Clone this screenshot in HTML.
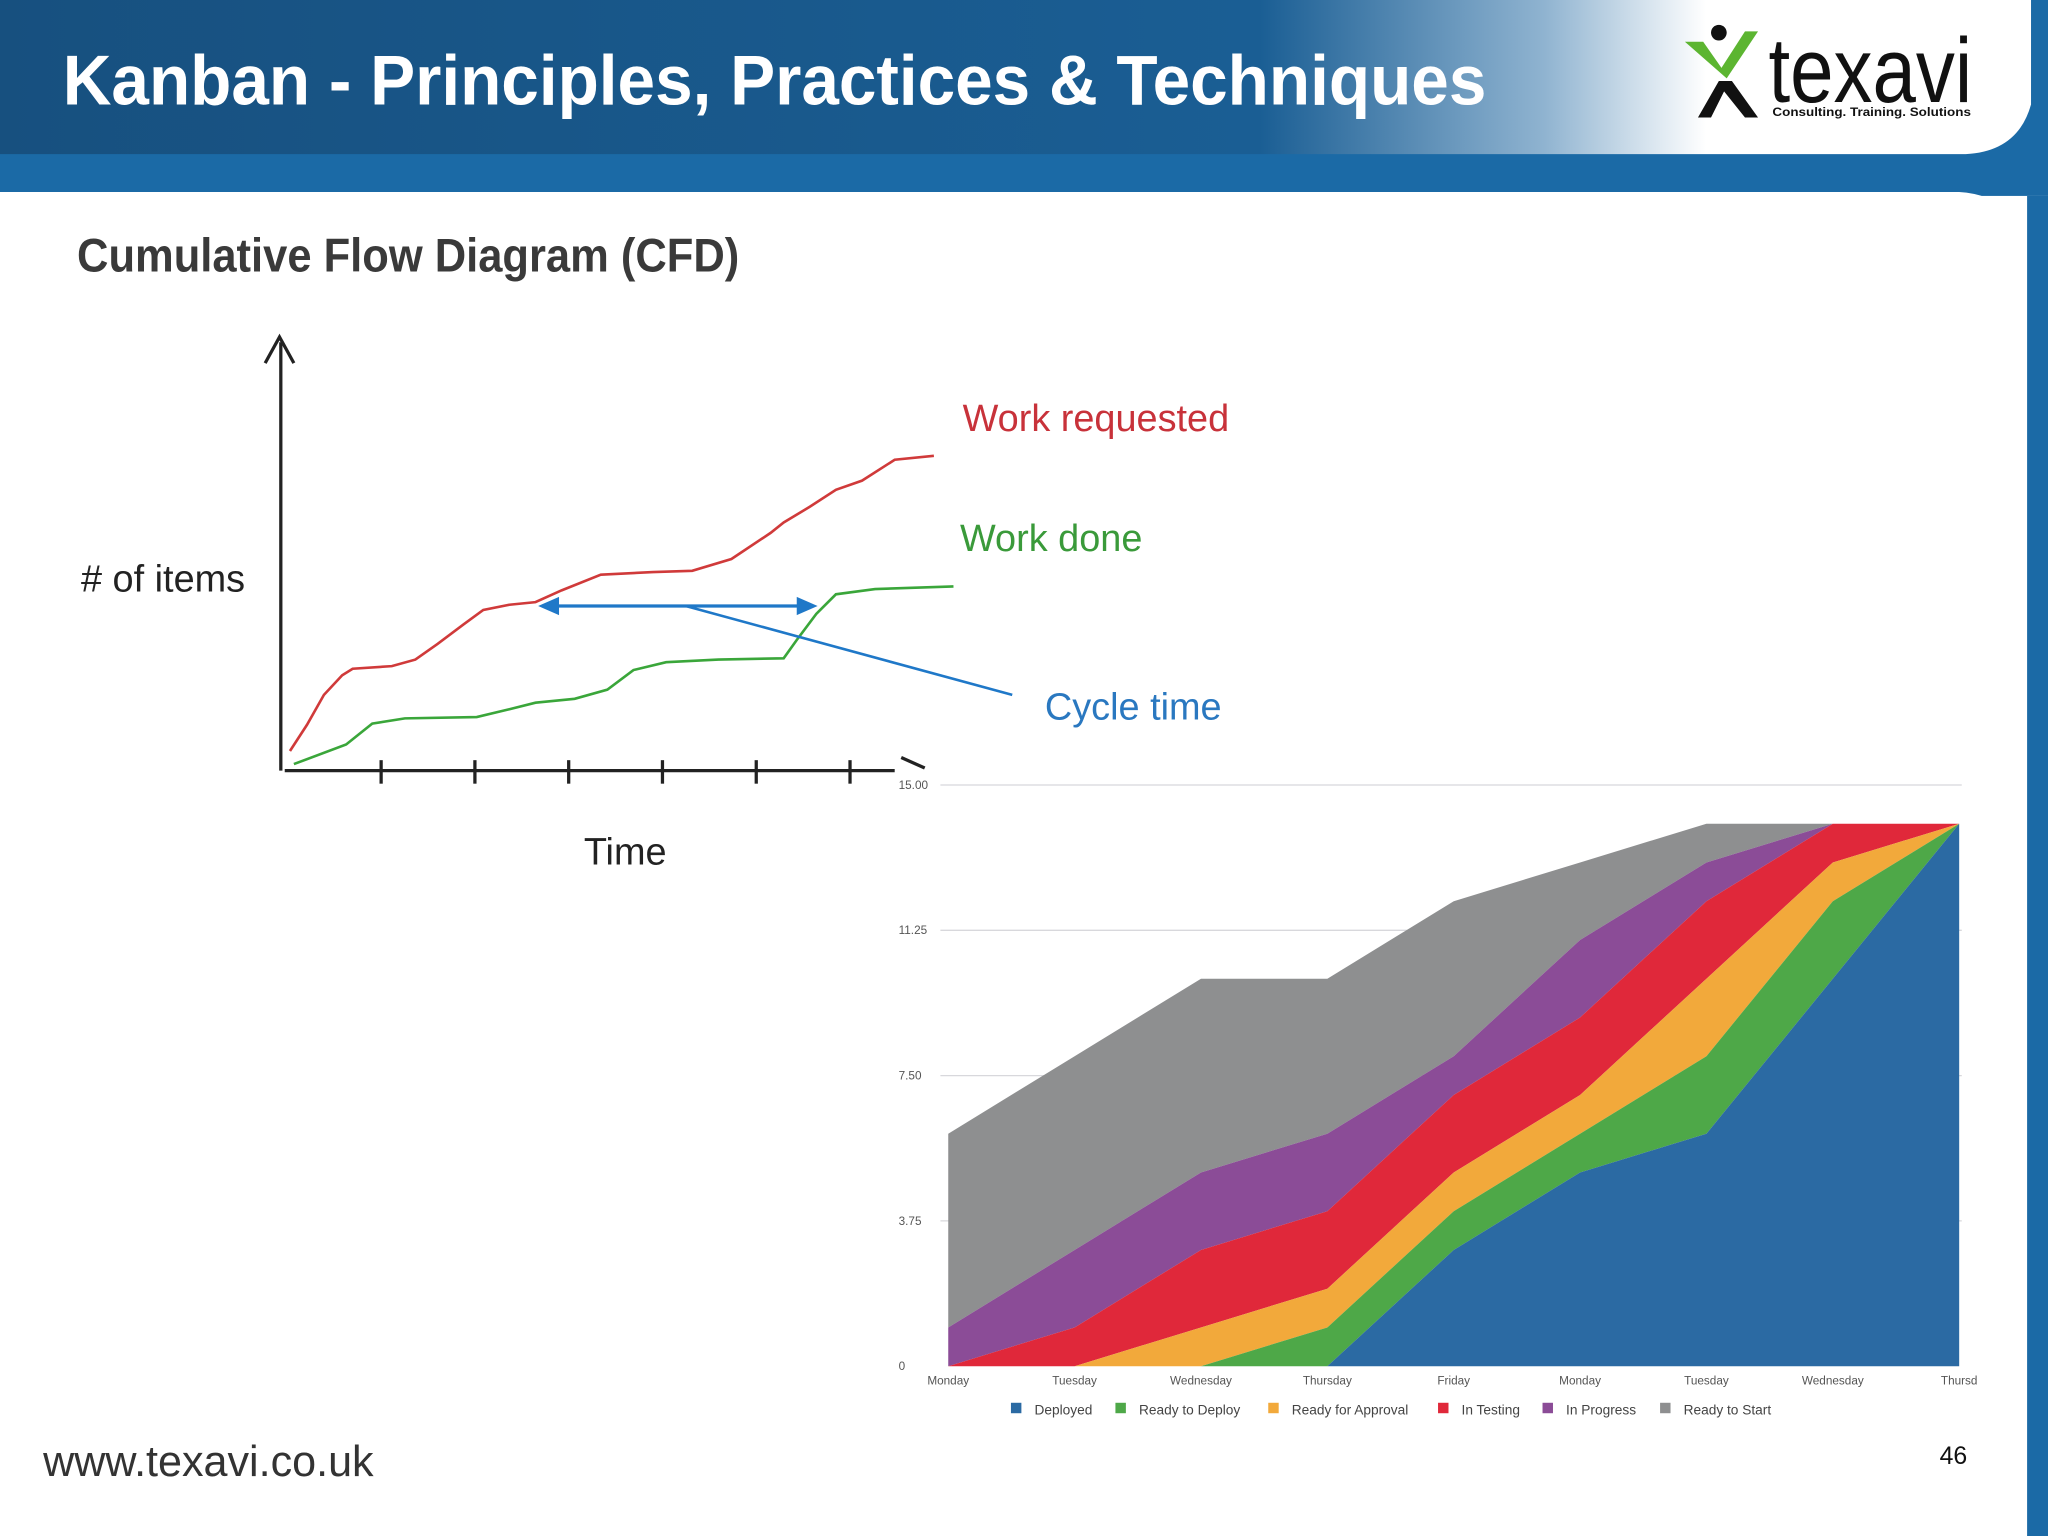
<!DOCTYPE html>
<html><head><meta charset="utf-8"><style>
html,body{margin:0;padding:0;background:#fff;}
svg{display:block;}
text{font-family:"Liberation Sans",sans-serif;}
</style></head><body>
<svg id="page" width="2048" height="1536" viewBox="0 0 1568 1176" xmlns="http://www.w3.org/2000/svg">
<defs>
<linearGradient id="hdr" x1="0" x2="1" y1="0" y2="0">
<stop offset="0" stop-color="#17507f"/><stop offset="0.62" stop-color="#1a5e94"/><stop offset="0.76" stop-color="#8fb3d0"/><stop offset="0.84" stop-color="#ffffff"/><stop offset="1" stop-color="#ffffff"/>
</linearGradient>
</defs>
<rect x="0" y="0" width="1568" height="150" fill="#1b6aa6"/>
<path d="M0 0 H1555 V80 Q1545 116 1505 118 H0 Z" fill="url(#hdr)"/>
<path d="M0 147 H1500 Q1548 150 1550 200 V1176 H0 Z" fill="#ffffff"/>
<text x="48" y="80" font-size="54" font-weight="bold" fill="#ffffff" textLength="1090" lengthAdjust="spacingAndGlyphs">Kanban - Principles, Practices &amp; Techniques</text>
<g>
<circle cx="1316" cy="25" r="6" fill="#111"/>
<path d="M1290 32 L1304 32 L1318 52 L1336 24 L1346 24 L1322 60 Z" fill="#5cb531"/>
<path d="M1300 90 L1316 62 L1326 62 L1346 90 L1336 90 L1320 70 L1310 90 Z" fill="#111"/>
<text x="1354" y="78" font-size="70" fill="#111" textLength="156" lengthAdjust="spacingAndGlyphs">texavi</text>
<text x="1357" y="89" font-size="9" font-weight="bold" fill="#111" textLength="152" lengthAdjust="spacingAndGlyphs">Consulting. Training. Solutions</text>
</g>
<text x="59" y="208" font-size="36" font-family="Liberation Serif, serif" font-weight="bold" fill="#3a3a3a" textLength="507" lengthAdjust="spacingAndGlyphs">Cumulative Flow Diagram (CFD)</text>

<g id="concept">
<line x1="215" y1="262" x2="215" y2="590" stroke="#222" stroke-width="2.5"/>
<path d="M203 278 L214 258 L225 278" fill="none" stroke="#222" stroke-width="2.5"/>
<line x1="218" y1="590" x2="685" y2="590" stroke="#222" stroke-width="2.5"/>
<line x1="690" y1="580" x2="708" y2="588" stroke="#222" stroke-width="2.5"/>
<g id="ticks"></g>
<polyline fill="none" stroke="#d03a3a" stroke-width="2" points="222,575 235,555 248,532 262,517 270,512 300,510 318,505 335,493 355,478 370,467 390,463 410,461 430,452 460,440 500,438 530,437 560,428 590,408 600,400 620,388 640,375 660,368 685,352 715,349"/>
<polyline fill="none" stroke="#3aa63a" stroke-width="2" points="225,585 265,570 285,554 310,550 365,549 390,543 410,538 440,535 465,528 485,513 510,507 550,505 600,504 610,490 625,470 640,455 670,451 730,449"/>
<line x1="425" y1="464" x2="612" y2="464" stroke="#1f78c8" stroke-width="2.5"/>
<path d="M412 464 L428 457 L428 471 Z" fill="#1f78c8"/>
<path d="M626 464 L610 457 L610 471 Z" fill="#1f78c8"/>
<line x1="525" y1="464" x2="775" y2="532" stroke="#1f78c8" stroke-width="2"/>
<text x="62" y="453" font-size="29" fill="#222"># of items</text>
<text x="447" y="662" font-size="29" fill="#222">Time</text>
<text x="737" y="330" font-size="29" fill="#c8323a">Work requested</text>
<text x="735" y="422" font-size="29" fill="#3a9a3a">Work done</text>
<text x="800" y="551" font-size="29" fill="#2a78c0">Cycle time</text>
</g>

<g id="cfd"></g>

<text x="33" y="1130" font-size="33" fill="#333">www.texavi.co.uk</text>
<text x="1485" y="1121" font-size="19" fill="#111">46</text>
<rect x="1552" y="150" width="16" height="1026" fill="#1b6aa6"/>
</svg>
<script>
const categories = ["Monday","Tuesday","Wednesday","Thursday","Friday","Monday","Tuesday","Wednesday","Thursd"];
const seriesNames = ["Deployed","Ready to Deploy","Ready for Approval","In Testing","In Progress","Ready to Start"];
const seriesColors = ["#2b6aa3","#4ea848","#f2a93b","#e0283a","#8b4c97","#8e8f90"];
const deployed = [0,0,0,0,3,5,6,10,14];
const readyToDeploy = [0,0,0,1,1,1,2,2,0];
const readyForApproval = [0,0,1,1,1,1,2,1,0];
const inTesting = [0,1,2,2,2,2,2,1,0];
const inProgress = [1,2,2,2,1,2,1,0,0];
const readyToStart = [5,5,5,4,4,2,1,0,0];
const yTicks = [0,3.75,7.5,11.25,15];
const yTickLabels = ["0","3.75","7.50","11.25","15.00"];
const conceptTicks = [1,2,3,4,5,6];

const NS = "http://www.w3.org/2000/svg";
const X0 = 726, X1 = 1500, Y0 = 1046, Y1 = 601, YMAX = 15;
function xScale(i){ return X0 + i*(X1-X0)/(categories.length-1); }
function yScale(v){ return Y0 - v/YMAX*(Y0-Y1); }
function mk(tag, attrs, parent){ const e=document.createElementNS(NS,tag); for(const k in attrs) e.setAttribute(k,attrs[k]); parent.appendChild(e); return e; }

const tg = document.getElementById('ticks');
conceptTicks.forEach(t=>{
  const x = 220 + t*71.8;
  const l = mk('line',{x1:x,y1:582,x2:x,y2:600,stroke:'#222','stroke-width':2.5},tg);
  
  
});

const g = document.getElementById('cfd');
yTicks.forEach((v,i)=>{
  if(v>0){
    const l = mk('line',{x1:720,x2:1502,y1:yScale(v),y2:yScale(v),stroke:'#d8d8dc','stroke-width':1},g);
    
    
  }
  const t = mk('text',{x:688,y:yScale(v)+3,'font-size':9,fill:'#555'},g);
  t.textContent = yTickLabels[i];
  
  
});
const series = [deployed,readyToDeploy,readyForApproval,inTesting,inProgress,readyToStart];
let base = categories.map(()=>0);
const layers = [];
series.forEach((s,si)=>{
  const top = base.map((b,i)=>b+s[i]);
  layers.push({bottom:base.slice(), top});
  base = top;
});
for(let si=series.length-1; si>=0; si--){
  const L = layers[si];
  let d = "M"+categories.map((c,i)=>xScale(i)+","+yScale(L.top[i])).join(" L");
  for(let i=categories.length-1;i>=0;i--) d += " L"+xScale(i)+","+yScale(L.bottom[i]);
  d += " Z";
  const p = mk('path',{d, fill:seriesColors[si]},g);
  
  
}
categories.forEach((c,i)=>{
  const t = mk('text',{x:xScale(i),y:1060,'font-size':9,fill:'#555','text-anchor':'middle'},g);
  t.textContent = c;
  
  
});
const legendX = [774,854,971,1101,1181,1271];
seriesNames.forEach((n,i)=>{
  const r = mk('rect',{x:legendX[i],y:1074,width:8,height:8,fill:seriesColors[i]},g);
  
  
  const t = mk('text',{x:legendX[i]+18,y:1083,'font-size':10.5,fill:'#444'},g);
  t.textContent = n;
  
  
});
</script>
</body></html>
